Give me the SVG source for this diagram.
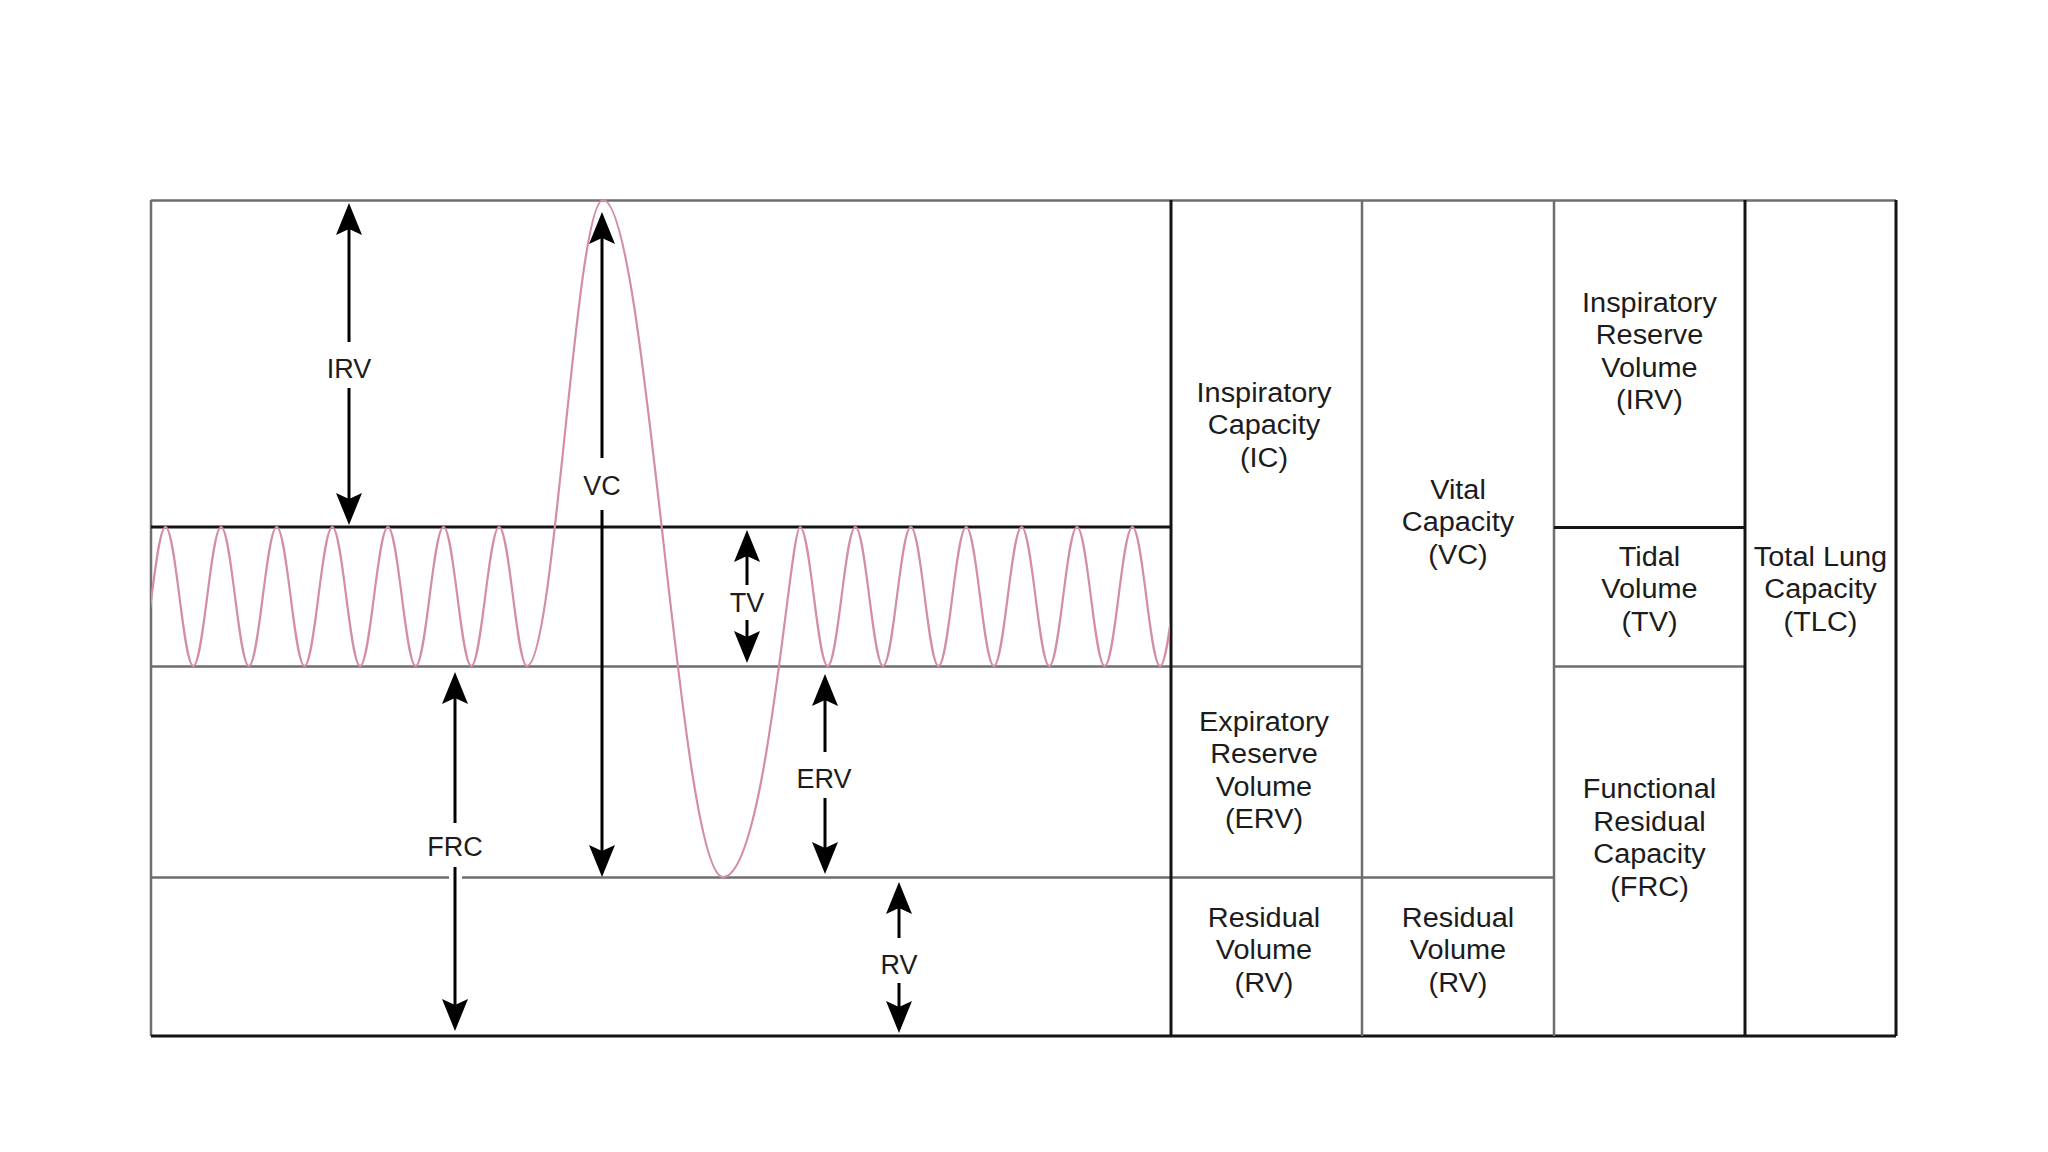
<svg xmlns="http://www.w3.org/2000/svg" width="2048" height="1152" viewBox="0 0 2048 1152">
<style>
.grey{stroke:#6e6e6e;stroke-width:2.5;fill:none}
.blk{stroke:#141414;stroke-width:3;fill:none}
.shaft{stroke:#000;stroke-width:3;fill:none;marker-end:url(#ah)}
.lbl{font-family:"Liberation Sans",Arial,sans-serif;font-size:27px;fill:#1c1c1c;text-anchor:middle}
.box{font-family:"Liberation Sans",Arial,sans-serif;font-size:27px;fill:#1c1c1c;text-anchor:middle}
.wave{stroke:#d48ea3;stroke-width:2.2;fill:none}
</style>
<defs>
<marker id="ah" viewBox="-34 -15 36 30" refX="-20" refY="0" markerWidth="36" markerHeight="30" markerUnits="userSpaceOnUse" orient="auto">
<path d="M0,0 L-32,-13 L-26,0 L-32,13 Z" fill="#000"/>
</marker>
<clipPath id="graphclip"><rect x="151" y="190" width="1019" height="720"/></clipPath>
</defs>
<rect width="2048" height="1152" fill="#fff"/>

<g id="frame">
<line class="grey" x1="151" y1="200.5" x2="1896" y2="200.5"/>
<line class="grey" x1="151" y1="200" x2="151" y2="1036"/>
<line class="blk" x1="151" y1="527" x2="1171" y2="527"/>
<line class="grey" x1="151" y1="666.5" x2="1362" y2="666.5"/>
<line class="grey" x1="151" y1="877.5" x2="449" y2="877.5"/>
<line class="grey" x1="462" y1="877.5" x2="1554" y2="877.5"/>
<line class="blk" x1="151" y1="1036" x2="1896" y2="1036"/>
<line class="blk" x1="1171" y1="200" x2="1171" y2="1036"/>
<line class="grey" x1="1362" y1="200" x2="1362" y2="1036"/>
<line class="grey" x1="1554" y1="200" x2="1554" y2="1036"/>
<line class="blk" x1="1554" y1="527.5" x2="1745" y2="527.5"/>
<line class="grey" x1="1554" y1="666.5" x2="1745" y2="666.5"/>
<line class="blk" x1="1745" y1="200" x2="1745" y2="1036"/>
<line class="blk" x1="1896" y1="200" x2="1896" y2="1036"/>
</g>

<g id="spirogram" clip-path="url(#graphclip)">
<path class="wave" d="M137.7,666
c10.1,0 17.7,-139 27.8,-139 c10.1,0 17.7,139 27.8,139
c10.1,0 17.7,-139 27.8,-139 c10.1,0 17.7,139 27.8,139
c10.1,0 17.7,-139 27.8,-139 c10.1,0 17.7,139 27.8,139
c10.1,0 17.7,-139 27.8,-139 c10.1,0 17.7,139 27.8,139
c10.1,0 17.7,-139 27.8,-139 c10.1,0 17.7,139 27.8,139
c10.1,0 17.7,-139 27.8,-139 c10.1,0 17.7,139 27.8,139
c10.1,0 17.7,-139 27.8,-139 c10.1,0 17.7,139 27.8,139
C554.6,666 575.3,200 603,200
C646.7,200 679.3,877 723,877
C766.7,877 790,527 800,527
c10.1,0 17.6,139 27.7,139 c10.1,0 17.6,-139 27.7,-139
c10.1,0 17.6,139 27.7,139 c10.1,0 17.6,-139 27.7,-139
c10.1,0 17.6,139 27.7,139 c10.1,0 17.6,-139 27.7,-139
c10.1,0 17.6,139 27.7,139 c10.1,0 17.6,-139 27.7,-139
c10.1,0 17.6,139 27.7,139 c10.1,0 17.6,-139 27.7,-139
c10.1,0 17.6,139 27.7,139 c10.1,0 17.6,-139 27.7,-139
c10.1,0 17.6,139 27.7,139 c10.1,0 17.6,-139 27.7,-139"/>
</g>

<g id="connectors">
<line class="shaft" x1="349" y1="342" x2="349" y2="223"/>
<line class="shaft" x1="349" y1="388" x2="349" y2="505"/>
<line class="shaft" x1="602" y1="458" x2="602" y2="232"/>
<line class="shaft" x1="602" y1="510" x2="602" y2="857"/>
<line class="shaft" x1="747" y1="585" x2="747" y2="550"/>
<line class="shaft" x1="747" y1="620" x2="747" y2="643"/>
<line class="shaft" x1="455" y1="823" x2="455" y2="692"/>
<line class="shaft" x1="455" y1="867" x2="455" y2="1011"/>
<line class="shaft" x1="825" y1="752" x2="825" y2="694"/>
<line class="shaft" x1="825" y1="798" x2="825" y2="854"/>
<line class="shaft" x1="899" y1="938" x2="899" y2="902"/>
<line class="shaft" x1="899" y1="983" x2="899" y2="1013"/>
</g>

<g id="label-IRV"><text class="lbl" x="349" y="378">IRV</text></g>
<g id="label-VC"><text class="lbl" x="602" y="495">VC</text></g>
<g id="label-TV"><text class="lbl" x="747" y="612">TV</text></g>
<g id="label-FRC"><text class="lbl" x="455" y="856">FRC</text></g>
<g id="label-ERV"><text class="lbl" x="824" y="788">ERV</text></g>
<g id="label-RV"><text class="lbl" x="899" y="974">RV</text></g>

<g id="box-IC"><text class="box" transform="translate(1264,0) scale(1.07,1)"><tspan x="0" y="402">Inspiratory</tspan><tspan x="0" y="434.5">Capacity</tspan><tspan x="0" y="467">(IC)</tspan></text></g>
<g id="box-ERV"><text class="box" transform="translate(1264,0) scale(1.07,1)"><tspan x="0" y="731">Expiratory</tspan><tspan x="0" y="763.5">Reserve</tspan><tspan x="0" y="796">Volume</tspan><tspan x="0" y="828.5">(ERV)</tspan></text></g>
<g id="box-RV1"><text class="box" transform="translate(1264,0) scale(1.07,1)"><tspan x="0" y="927">Residual</tspan><tspan x="0" y="959.5">Volume</tspan><tspan x="0" y="992">(RV)</tspan></text></g>
<g id="box-VC"><text class="box" transform="translate(1458,0) scale(1.07,1)"><tspan x="0" y="499">Vital</tspan><tspan x="0" y="531.5">Capacity</tspan><tspan x="0" y="564">(VC)</tspan></text></g>
<g id="box-RV2"><text class="box" transform="translate(1458,0) scale(1.07,1)"><tspan x="0" y="927">Residual</tspan><tspan x="0" y="959.5">Volume</tspan><tspan x="0" y="992">(RV)</tspan></text></g>
<g id="box-IRV"><text class="box" transform="translate(1649.5,0) scale(1.07,1)"><tspan x="0" y="312">Inspiratory</tspan><tspan x="0" y="344.5">Reserve</tspan><tspan x="0" y="377">Volume</tspan><tspan x="0" y="409.5">(IRV)</tspan></text></g>
<g id="box-TV"><text class="box" transform="translate(1649.5,0) scale(1.07,1)"><tspan x="0" y="566">Tidal</tspan><tspan x="0" y="598.5">Volume</tspan><tspan x="0" y="631">(TV)</tspan></text></g>
<g id="box-FRC"><text class="box" transform="translate(1649.5,0) scale(1.07,1)"><tspan x="0" y="798.5">Functional</tspan><tspan x="0" y="831">Residual</tspan><tspan x="0" y="863.5">Capacity</tspan><tspan x="0" y="896">(FRC)</tspan></text></g>
<g id="box-TLC"><text class="box" transform="translate(1820.5,0) scale(1.07,1)"><tspan x="0" y="566">Total Lung</tspan><tspan x="0" y="598.5">Capacity</tspan><tspan x="0" y="631">(TLC)</tspan></text></g>
</svg>
